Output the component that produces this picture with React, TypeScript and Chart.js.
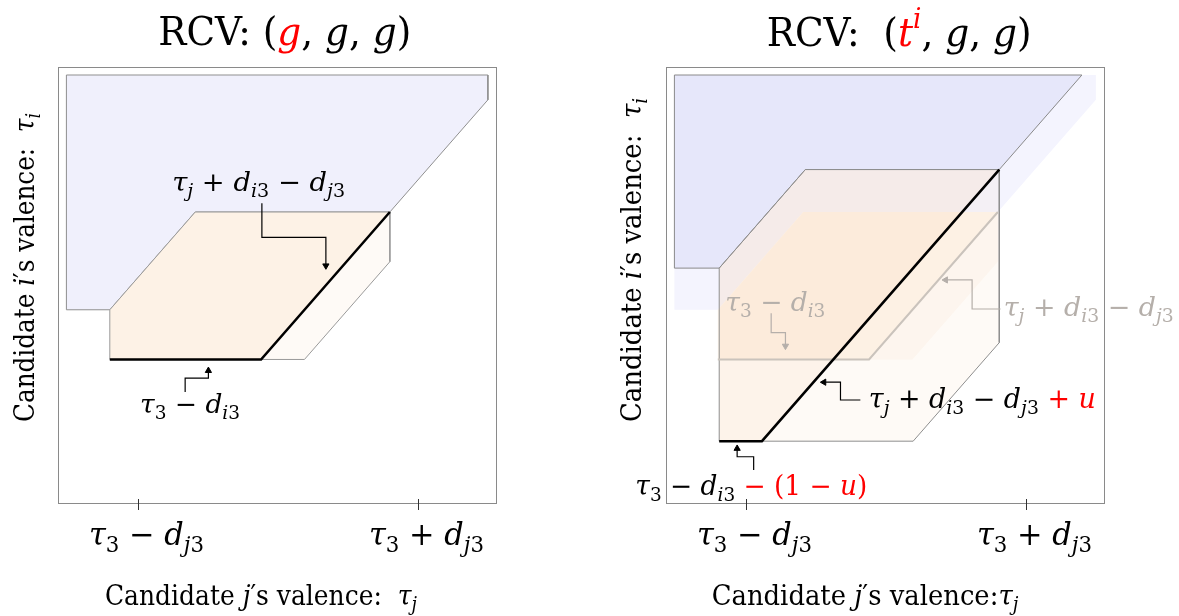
import { useEffect, useRef } from 'react';
import { Chart, registerables } from 'chart.js';

Chart.register(...registerables);

// ---------------- data (τj on x, τi on y; τ3 = 0, dj3 = 1) ----------------
const X_RANGE = [-1.57, 1.565];
const Y_RANGE = [-1.462, 1.265];
const xTickValues = [-1, 1];
const xTickLabels = ['τ_{3} − d_{j3}', 'τ_{3} + d_{j3}'];

// left panel: RCV (g, g, g)
const blueRegion = [[-1.51, 1.215], [1.5, 1.215], [1.5, 1.06], [0.8, 0.36], [-0.59, 0.36], [-1.2, -0.25], [-1.51, -0.25], [-1.51, 1.215]];
const orangeRegion = [[-1.2, -0.25], [-0.59, 0.36], [0.8, 0.36], [-0.12, -0.56], [-1.2, -0.56], [-1.2, -0.25]];
const lightRegion = [[0.8, 0.36], [0.8, 0.05], [0.19, -0.56], [-0.12, -0.56], [0.8, 0.36]];
const boundaryLine = [[-1.2, -0.56], [-0.12, -0.56], [0.8, 0.36]];

// right panel: RCV (t^i, g, g)
const blueRegionT = [[-1.51, 1.215], [1.4, 1.215], [0.81, 0.625], [-0.575, 0.625], [-1.19, 0.01], [-1.51, 0.01], [-1.51, 1.215]];
const orangeRegionT = [[-1.19, 0.01], [-0.575, 0.625], [0.81, 0.625], [-0.885, -1.07], [-1.19, -1.07], [-1.19, 0.01]];
const lightRegionT = [[0.81, 0.625], [0.81, -0.455], [0.195, -1.07], [-0.885, -1.07], [0.81, 0.625]];
const boundaryLineT = [[-1.19, -1.07], [-0.885, -1.07], [0.81, 0.625]];

// annotation arrows (elbow connectors)
const arrowL1 = [[-0.114, 0.414], [-0.114, 0.202], [0.343, 0.202], [0.343, 0.025]];
const arrowL2 = [[-0.662, -0.763], [-0.662, -0.677], [-0.496, -0.677], [-0.496, -0.63]];
const arrowR1 = [[-0.819, -0.272], [-0.819, -0.393], [-0.717, -0.393], [-0.717, -0.476]];
const arrowR2 = [[0.819, -0.245], [0.616, -0.245], [0.616, -0.064], [0.427, -0.064]];
const arrowR3 = [[-0.182, -0.813], [-0.324, -0.813], [-0.324, -0.702], [-0.442, -0.702]];
const arrowR4 = [[-0.944, -1.25], [-0.944, -1.167], [-1.062, -1.167], [-1.062, -1.116]];

// ---------------- rich text helpers ----------------
type Run = { t: string; it?: boolean; c?: string; lv?: number };
const FAMILY = '"DejaVu Serif", "Liberation Serif", serif';
const RED = '#ff0000';
const GRAY = '#b5afaa';

function m(s: string, c?: string): Run[] {
  const out: Run[] = [];
  const push = (ch: string, lv: number) => {
    const italic = /[A-Za-z\u03B1-\u03C9]/.test(ch);
    const last = out[out.length - 1];
    if (last && !!last.it === italic && (last.lv || 0) === lv && last.c === c) last.t += ch;
    else out.push({ t: ch, it: italic, lv, c });
  };
  let i = 0;
  while (i < s.length) {
    const ch = s[i];
    if ((ch === '_' || ch === '^') && s[i + 1] === '{') {
      const end = s.indexOf('}', i);
      const lv = ch === '_' ? -1 : 1;
      for (const cc of s.slice(i + 2, end)) push(cc, lv);
      i = end + 1;
    } else {
      push(ch, 0);
      i++;
    }
  }
  return out;
}
function tx(s: string, c?: string): Run[] {
  return [{ t: s, c }];
}
function runFont(r: Run, size: number) {
  const s = r.lv ? size * 0.7 : size;
  return `${r.it ? 'italic ' : ''}${s}px ${FAMILY}`;
}
function richWidth(ctx: CanvasRenderingContext2D, runs: Run[], size: number) {
  let w = 0;
  for (const r of runs) {
    ctx.font = runFont(r, size);
    w += ctx.measureText(r.t).width;
  }
  return w;
}
// draws runs at a given font size, squeezed horizontally to span targetW
function drawRich(ctx: CanvasRenderingContext2D, runs: Run[], x: number, y: number, size: number, targetW: number, color: string) {
  const natural = richWidth(ctx, runs, size);
  const sx = targetW / natural;
  ctx.save();
  ctx.translate(x, y);
  ctx.scale(sx, 1);
  ctx.textAlign = 'left';
  ctx.textBaseline = 'alphabetic';
  let cx = 0;
  for (const r of runs) {
    ctx.font = runFont(r, size);
    ctx.fillStyle = r.c || color;
    const dy = r.lv === -1 ? size * 0.22 : r.lv === 1 ? -size * 0.45 : 0;
    ctx.fillText(r.t, cx, dy);
    cx += ctx.measureText(r.t).width;
  }
  ctx.restore();
}

// ---------------- panels ----------------
type Ann = { runs: Run[]; x: number; y: number; size: number; w: number; color: string };
type Layer = { data: number[][]; fill?: string; stroke?: string; width?: number; arrow?: number };
type Panel = {
  left: number; width: number; padL: number; padR: number;
  title: Run[]; titleX: number; titleY: number; titleW: number;
  yTitle: Run[]; yTitleX: number; yTitleW: number;
  xTitle: Run[]; xTitleX: number; xTitleW: number;
  anns: Ann[]; layers: Layer[];
};

const panels: Panel[] = [
  {
    left: 0, width: 590, padL: 58, padR: 93,
    title: [...tx('RCV: '), ...m('('), ...m('g', RED), ...m(', g, g)')],
    titleX: 158.3, titleY: 45, titleW: 253,
    yTitle: [...tx('Candidate '), ...m('i'), ...tx('′s valence:  '), ...m('τ_{i}')],
    yTitleX: 34, yTitleW: 309,
    xTitle: [...tx('Candidate '), ...m('j'), ...tx('′s valence:  '), ...m('τ_{j}')],
    xTitleX: 105, xTitleW: 312,
    anns: [
      { runs: m('τ_{j} + d_{i3} − d_{j3}'), x: -0.755, y: 0.491, size: 26.5, w: 173, color: '#000' },
      { runs: m('τ_{3} − d_{i3}'), x: -0.984, y: -0.896, size: 26.5, w: 100, color: '#000' },
    ],
    layers: [
      { data: blueRegion, fill: '#f0f0fc', stroke: '#8f8f8f', width: 1 },
      { data: orangeRegion, fill: '#fdf2e6', stroke: '#9a9a9a', width: 1 },
      { data: lightRegion, fill: '#fefaf6', stroke: '#9a9a9a', width: 1 },
      { data: boundaryLine, stroke: '#000', width: 2.5 },
      { data: arrowL1, stroke: '#000', width: 1.2, arrow: 180 },
      { data: arrowL2, stroke: '#000', width: 1.2, arrow: 0 },
    ],
  },
  {
    left: 590, width: 589, padL: 76, padR: 74,
    title: [...tx('RCV:  '), ...m('('), ...m('t^{i}', RED), ...m(', g, g)')],
    titleX: 176.7, titleY: 46, titleW: 265,
    yTitle: [...tx('Candidate '), ...m('i'), ...tx('′s valence:  '), ...m('τ_{i}')],
    yTitleX: 50.5, yTitleW: 324,
    xTitle: [...tx('Candidate '), ...m('j'), ...tx('′s valence:'), ...m('τ_{j}')],
    xTitleX: 121.7, xTitleW: 306.6,
    anns: [
      { runs: m('τ_{3} − d_{i3}'), x: -1.146, y: -0.256, size: 26.5, w: 100, color: GRAY },
      { runs: m('τ_{j} + d_{i3} − d_{j3}'), x: 0.842, y: -0.289, size: 26.5, w: 170, color: GRAY },
      { runs: [...m('τ_{j} + d_{i3} − d_{j3} '), ...m('+ u', RED)], x: -0.122, y: -0.865, size: 27, w: 227, color: '#000' },
      { runs: [...m('τ_{3} − d_{i3} '), ...m('− (1 − u)', RED)], x: -1.789, y: -1.405, size: 27, w: 232, color: '#000' },
    ],
    layers: [
      { data: blueRegion, fill: '#f4f4fe' },
      { data: orangeRegion, fill: '#fef5eb' },
      { data: lightRegion, fill: '#fefaf6' },
      { data: blueRegionT, fill: '#e6e7fa', stroke: '#8a8a8a', width: 1 },
      { data: orangeRegionT, fill: 'rgba(247,207,171,0.25)', stroke: '#8e8e8e', width: 1 },
      { data: lightRegionT, fill: 'rgba(247,207,171,0.1)', stroke: '#8e8e8e', width: 1 },
      { data: boundaryLine, stroke: '#cac3bc', width: 2 },
      { data: boundaryLineT, stroke: '#000', width: 2.5 },
      { data: arrowR1, stroke: GRAY, width: 1.2, arrow: 180 },
      { data: arrowR2, stroke: GRAY, width: 1.2, arrow: 270 },
      { data: arrowR3, stroke: '#000', width: 1.2, arrow: 270 },
      { data: arrowR4, stroke: '#000', width: 1.2, arrow: 0 },
    ],
  },
];

function buildDatasets(layers: Layer[]) {
  const n = layers.length;
  return layers.map((L, idx) => {
    const last = L.data.length - 1;
    const isArrow = L.arrow !== undefined;
    return {
      data: L.data.map(([x, y]) => ({ x, y })),
      order: n - idx,
      fill: L.fill ? 'shape' : false,
      backgroundColor: L.fill || 'rgba(0,0,0,0)',
      borderColor: L.stroke || 'rgba(0,0,0,0)',
      borderWidth: L.width || 1,
      borderJoinStyle: 'miter',
      borderCapStyle: 'butt',
      tension: 0,
      pointRadius: L.data.map((_, i) => (isArrow && i === last ? 3.6 : 0)),
      pointStyle: 'triangle',
      pointRotation: L.data.map((_, i) => (isArrow && i === last ? (L.arrow as number) : 0)),
      pointBackgroundColor: L.stroke || '#000',
      pointBorderColor: L.stroke || '#000',
      pointBorderWidth: 1,
      pointHoverRadius: 0,
    };
  });
}

function makeDeco(p: Panel) {
  return {
    id: 'deco' + p.left,
    afterDraw(chart: any) {
      const { ctx, chartArea: a, scales } = chart;
      const xs = scales.x;
      const ys = scales.y;
      ctx.save();
      // frame
      ctx.strokeStyle = '#8a8a8a';
      ctx.lineWidth = 1;
      ctx.strokeRect(a.left + 0.5, a.top + 0.5, a.right - a.left - 1, a.bottom - a.top - 1);
      // ticks and tick labels
      xTickValues.forEach((v, i) => {
        const px = Math.round(xs.getPixelForValue(v)) + 0.5;
        ctx.strokeStyle = '#333';
        ctx.lineWidth = 1;
        ctx.beginPath();
        ctx.moveTo(px, a.bottom - 5);
        ctx.lineTo(px, a.bottom + 6);
        ctx.stroke();
        drawRich(ctx, m(xTickLabels[i]), px - 49.5, a.bottom + 41, 31.5, 115, '#000');
      });
      // title
      drawRich(ctx, p.title, p.titleX, p.titleY, 40, p.titleW, '#000');
      // x title
      drawRich(ctx, p.xTitle, p.xTitleX, a.bottom + 101, 28, p.xTitleW, '#000');
      // y title
      ctx.save();
      ctx.translate(p.yTitleX, 422);
      ctx.rotate(-Math.PI / 2);
      drawRich(ctx, p.yTitle, 0, 0, 28.5, p.yTitleW, '#000');
      ctx.restore();
      // annotations
      for (const an of p.anns) {
        drawRich(ctx, an.runs, xs.getPixelForValue(an.x), ys.getPixelForValue(an.y), an.size, an.w, an.color);
      }
      ctx.restore();
    },
  };
}

function PanelChart({ p }: { p: Panel }) {
  const ref = useRef<HTMLCanvasElement>(null);
  useEffect(() => {
    const chart = new Chart(ref.current as HTMLCanvasElement, {
      type: 'line',
      data: { datasets: buildDatasets(p.layers) as any },
      options: {
        responsive: false,
        animation: false,
        devicePixelRatio: 1,
        events: [],
        layout: { padding: { left: p.padL, right: p.padR, top: 67, bottom: 112 } },
        scales: {
          x: { type: 'linear', min: X_RANGE[0], max: X_RANGE[1], display: false },
          y: { type: 'linear', min: Y_RANGE[0], max: Y_RANGE[1], display: false },
        },
        plugins: { legend: { display: false }, tooltip: { enabled: false } },
      },
      plugins: [makeDeco(p)],
    });
    return () => chart.destroy();
  }, []);
  return (
    <canvas
      ref={ref}
      width={p.width}
      height={616}
      style={{ position: 'absolute', left: p.left, top: 0, width: p.width, height: 616 }}
    />
  );
}

export default function App() {
  return (
    <div style={{ position: 'absolute', left: 0, top: 0, width: 1179, height: 616, background: '#fff', overflow: 'hidden' }}>
      {panels.map((p) => (
        <PanelChart key={p.left} p={p} />
      ))}
    </div>
  );
}
